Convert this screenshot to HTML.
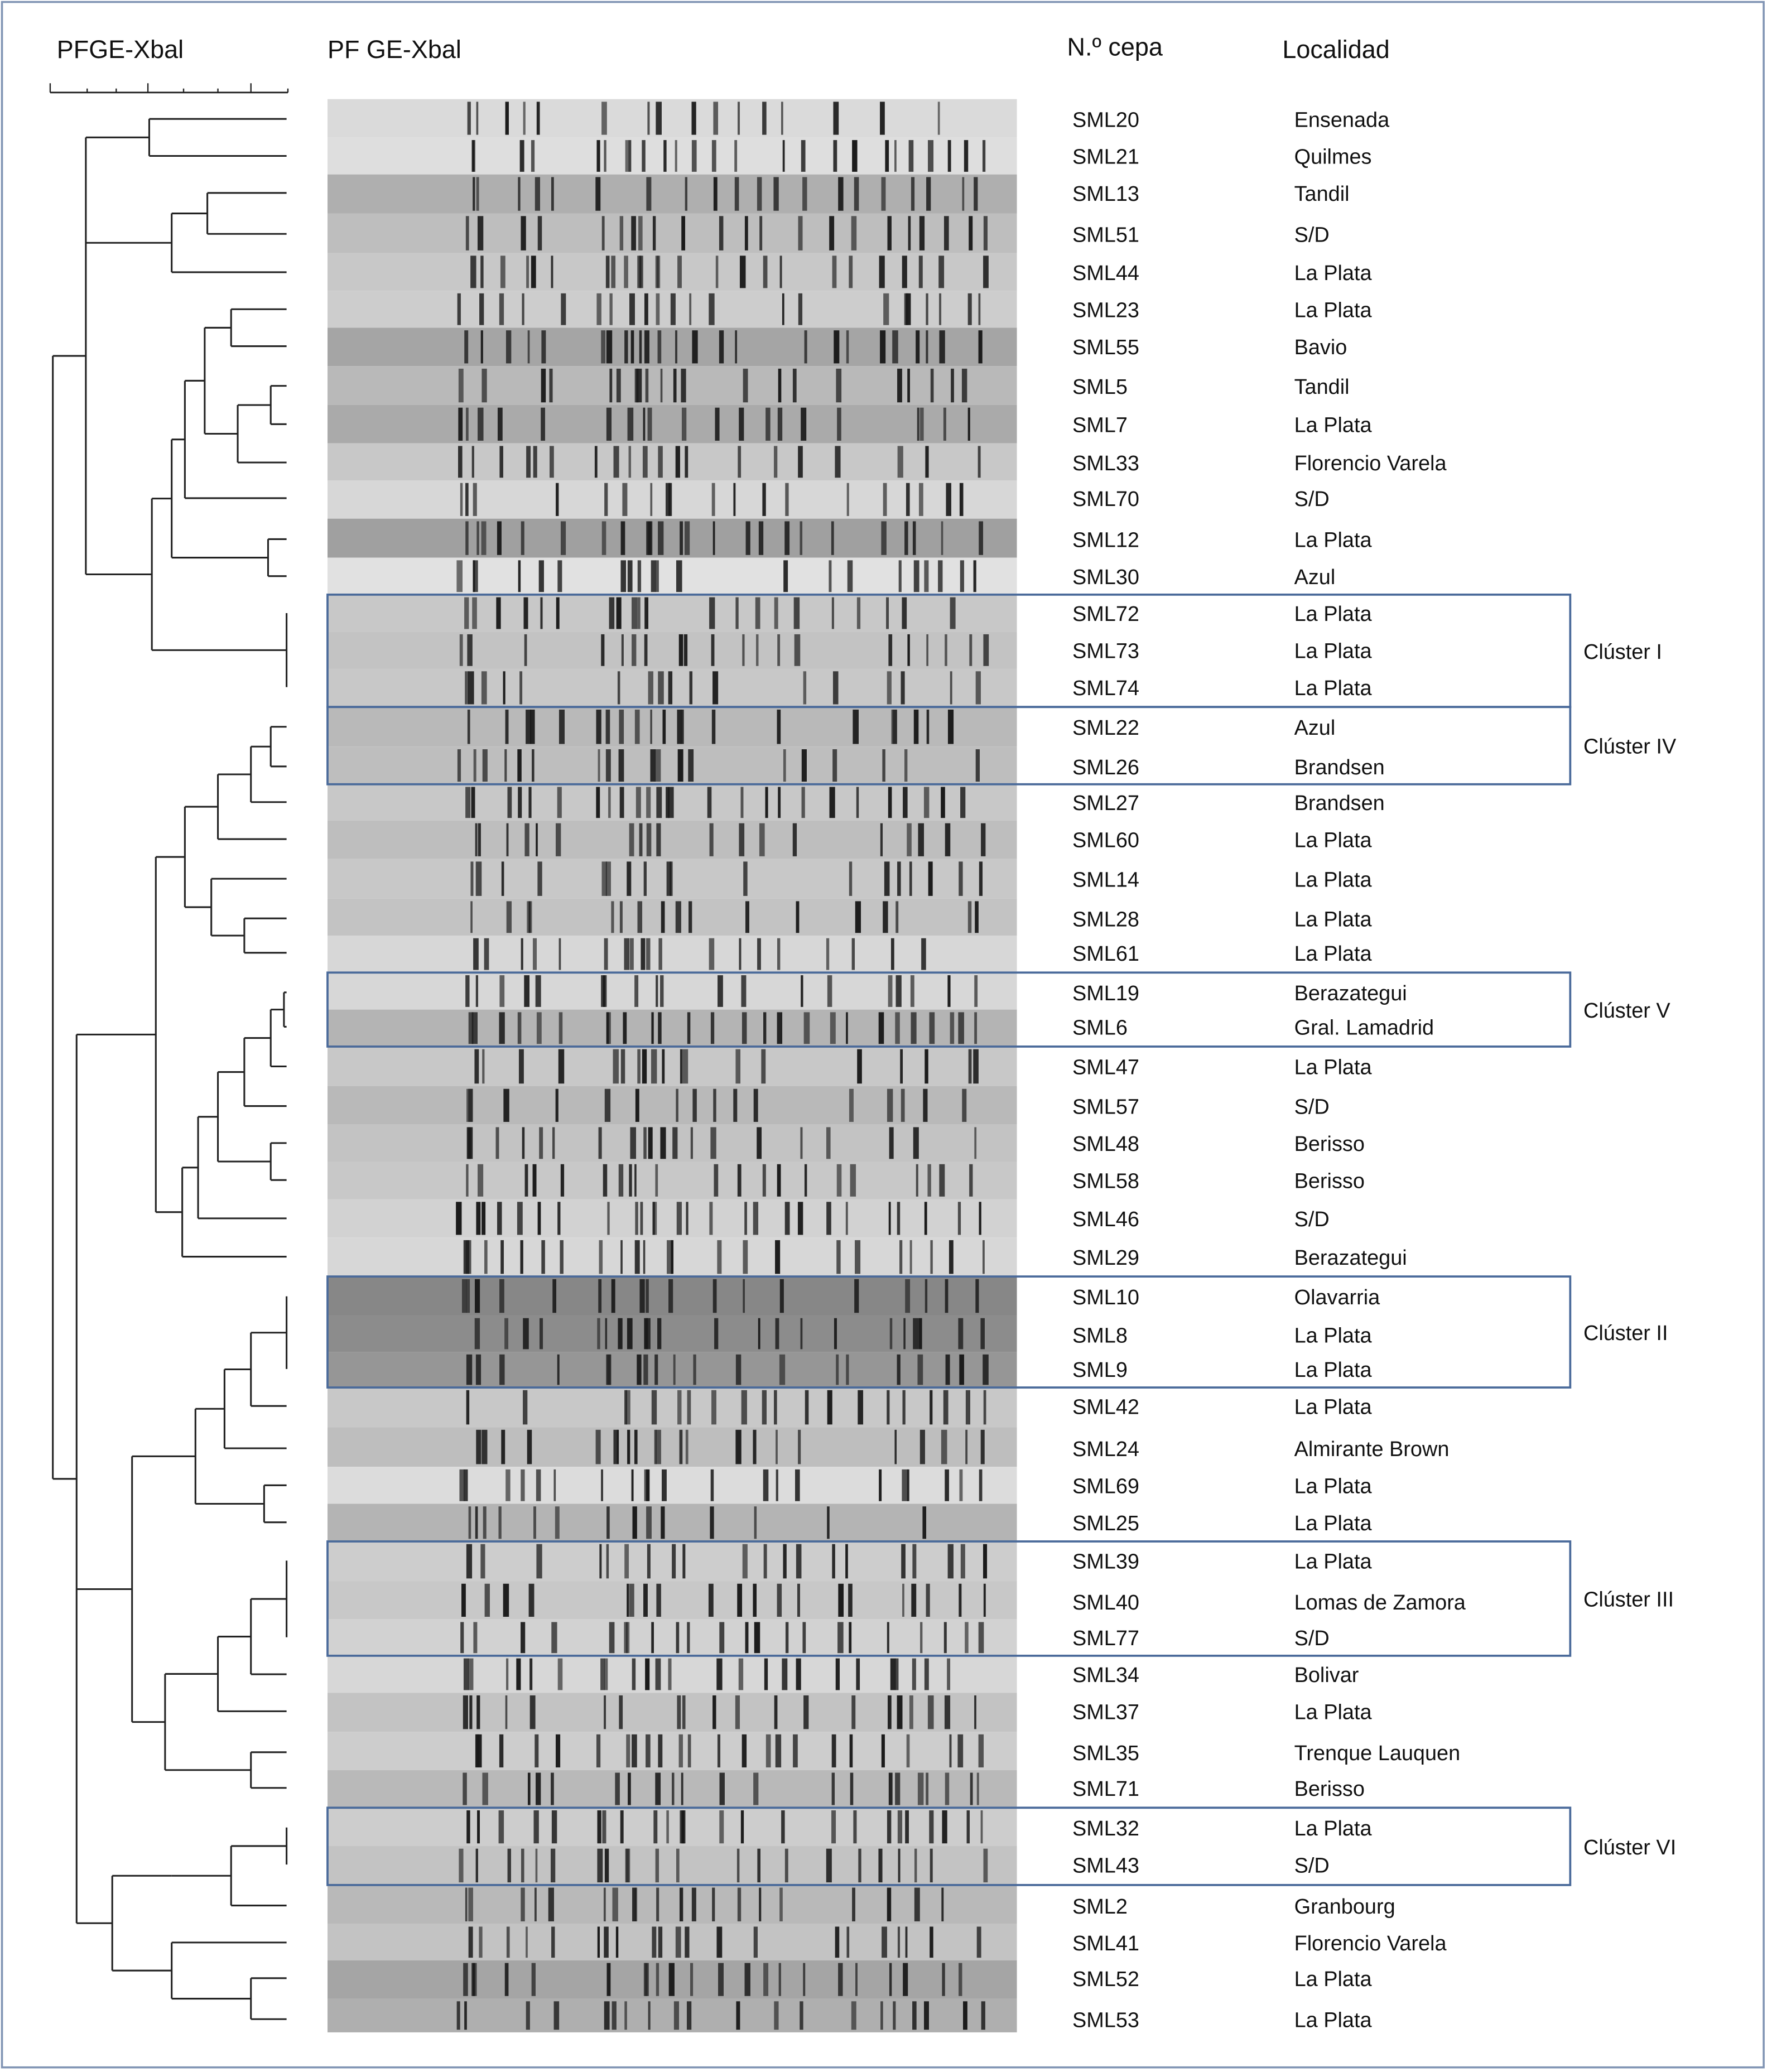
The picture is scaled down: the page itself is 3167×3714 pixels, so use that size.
<!DOCTYPE html>
<html><head><meta charset="utf-8">
<style>
html,body{margin:0;padding:0;background:#fff;}
svg{display:block;}
text{font-family:"Liberation Sans",sans-serif;fill:#111;}
</style></head>
<body>
<svg id="fig" width="3167" height="3714" viewBox="0 0 1338 1568" preserveAspectRatio="none" xmlns="http://www.w3.org/2000/svg">
<rect x="1.5" y="1.5" width="1334" height="1563" fill="#fff" stroke="#7f93b3" stroke-width="1.5"/>
<text x="43" y="44" font-size="19">PFGE-Xbal</text>
<text x="248" y="44" font-size="19">PF GE-Xbal</text>
<text x="808" y="42" font-size="19">N.º cepa</text>
<text x="971" y="44" font-size="19">Localidad</text>
<g id="scale"></g>
<g id="gel"></g>
<g id="dendro"></g>
<g id="labels"></g>
<g id="clusters"></g>
</svg>
<script>
const strains=["SML20","SML21","SML13","SML51","SML44","SML23","SML55","SML5","SML7","SML33","SML70","SML12","SML30","SML72","SML73","SML74","SML22","SML26","SML27","SML60","SML14","SML28","SML61","SML19","SML6","SML47","SML57","SML48","SML58","SML46","SML29","SML10","SML8","SML9","SML42","SML24","SML69","SML25","SML39","SML40","SML77","SML34","SML37","SML35","SML71","SML32","SML43","SML2","SML41","SML52","SML53"];
const localities=["Ensenada","Quilmes","Tandil","S/D","La Plata","La Plata","Bavio","Tandil","La Plata","Florencio Varela","S/D","La Plata","Azul","La Plata","La Plata","La Plata","Azul","Brandsen","Brandsen","La Plata","La Plata","La Plata","La Plata","Berazategui","Gral. Lamadrid","La Plata","S/D","Berisso","Berisso","S/D","Berazategui","Olavarria","La Plata","La Plata","La Plata","Almirante Brown","La Plata","La Plata","La Plata","Lomas de Zamora","S/D","Bolivar","La Plata","Trenque Lauquen","Berisso","La Plata","S/D","Granbourg","Florencio Varela","La Plata","La Plata"];
const rowY=[90,118,146,177,206,234,262,292,321,350,377,408,436,464,492,520,550,580,607,635,665,695,721,751,777,807,837,865,893,922,951,981,1010,1036,1064,1096,1124,1152,1181,1212,1239,1267,1295,1326,1353,1383,1411,1442,1470,1497,1528];
const laneGray=[218,222,175,190,200,205,165,185,170,200,215,160,225,200,195,200,185,190,200,190,200,195,215,215,180,200,185,195,200,210,215,135,140,150,200,190,220,180,205,200,210,215,195,205,185,205,195,185,195,165,175];
const clusterNames=["Clúster I","Clúster IV","Clúster V","Clúster II","Clúster III","Clúster VI"];
const clusterFirst=[13,16,23,31,38,45];
const clusterLast=[15,17,24,33,40,46];
const bandBase=[350,356,362,380,395,405,420,455,460,470,478,485,492,500,510,520,540,560,575,590,605,630,645,670,680,690,700,715,730,740];
const tree=[40,
 [65,[113,0,1],[130,[157,2,3],4],
   [115,[130,[140,[155,[175,5,6],[180,[205,7,8],9]],10],[203,11,12]],[217,13,14,15]]],
 [58,
   [118,[140,[165,[190,[205,16,17],18],19],[160,20,[185,21,22]]],
        [138,[150,[165,[185,[205,[215,23,24],25],26],[205,27,28]],29],30]],
   [100,[148,[170,[190,[217,31,32,33],34],35],[200,36,37]],
        [125,[165,[190,[217,38,39,40],41],42],[190,43,44]]],
   [85,[130,[175,[217,45,46],47]],[130,48,[190,49,50]]]]
];
const NS="http://www.w3.org/2000/svg";
function mk(tag,attrs,parent){const e=document.createElementNS(NS,tag);for(const k in attrs)e.setAttribute(k,attrs[k]);parent.appendChild(e);return e;}
const sc=document.getElementById('scale');
mk('line',{x1:38,y1:70,x2:218,y2:70,stroke:'#222','stroke-width':1.2},sc);
[38,66,88,112,139,165,190,218].forEach((x,i)=>{const t=mk('line',{x1:x,y1:70,x2:x,y2:(i%3==0?63:67),stroke:'#222','stroke-width':1},sc);

});
const gel=document.getElementById('gel');
const top0=75,bot0=1538;
function h(i,j){let v=(i*73856093)^(j*19349663);v=(v^(v>>>13))*1274126177;return ((v^(v>>>16))>>>0)%1000/1000;}
for(let i=0;i<rowY.length;i++){
 const y0=i==0?top0:(rowY[i-1]+rowY[i])/2, y1=i==rowY.length-1?bot0:(rowY[i]+rowY[i+1])/2;
 const g=laneGray[i];
 const r=mk('rect',{x:248,y:y0,width:522,height:y1-y0,fill:`rgb(${g},${g},${g})`},gel);
 
 
 bandBase.forEach((bx,j)=>{
   if(h(i,j)<0.3)return;
   const x=bx+(h(i+100,j)-0.5)*10;
   const w=1.5+h(i+200,j)*3;
   const b=mk('rect',{x:x,y:y0+2,width:w,height:y1-y0-4,fill:'#1a1a1a',opacity:0.6+0.4*h(i+300,j)},gel);
   
   
 });
}
const dg=document.getElementById('dendro');
function draw(n){
 if(typeof n==='number'){return {x:217,y:rowY[n]};}
 const x=n[0];const kids=n.slice(1).map(draw);
 kids.forEach(k=>{const l=mk('line',{x1:x,y1:k.y,x2:k.x,y2:k.y,stroke:'#222','stroke-width':1.3},dg);
 
 });
 const ys=kids.map(k=>k.y);const a=Math.min(...ys),b=Math.max(...ys);
 const v=mk('line',{x1:x,y1:a,x2:x,y2:b,stroke:'#222','stroke-width':1.3},dg);
 
 
 return {x:x,y:(a+b)/2};
}
const root=draw(tree);
const lb=document.getElementById('labels');
strains.forEach((s,i)=>{
 const t=mk('text',{x:812,y:rowY[i]+6,'font-size':16},lb);t.textContent=s;
 
 
 const u=mk('text',{x:980,y:rowY[i]+6,'font-size':16},lb);u.textContent=localities[i];
 
 
});
const cl=document.getElementById('clusters');
clusterNames.forEach((n,k)=>{
 const a=clusterFirst[k],b=clusterLast[k];
 const y0=(rowY[a]+rowY[a-1])/2, y1=(rowY[b]+rowY[b+1])/2;
 const r=mk('rect',{x:248,y:y0,width:941,height:y1-y0,fill:'none',stroke:'#4a6a9a','stroke-width':1.6},cl);
 
 
 const t=mk('text',{x:1199,y:(y0+y1)/2+6,'font-size':16},cl);t.textContent=n;
 
 
});
</script>
</body></html>
